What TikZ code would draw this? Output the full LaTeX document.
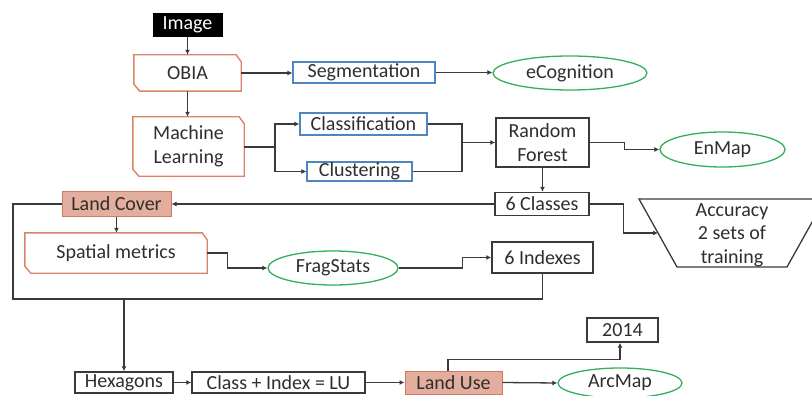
\documentclass[tikz,border=0pt]{standalone}
\usepackage{fontspec}
\setmainfont{Carlito}
\usetikzlibrary{arrows.meta,calc,shapes.geometric}
\definecolor{ln}{HTML}{3A3A3A}
\definecolor{orl}{HTML}{D98466}
\definecolor{blu}{HTML}{4F86C0}
\definecolor{grn}{HTML}{33B05A}
\definecolor{lcfill}{HTML}{E3AE9E}
\definecolor{lcdraw}{HTML}{C97C62}
\definecolor{txt}{HTML}{2E2E2E}
\tikzset{
  base/.style={inner sep=0pt, font=\fontsize{20}{23.5}\selectfont, text=txt, align=center},
  blk/.style={base, draw=ln, line width=1.4pt, fill=white},
  bluebox/.style={base, draw=blu, line width=1.2pt},
  grnell/.style={base, draw=grn, line width=1.3pt, ellipse},
  lcbox/.style={base, draw=lcdraw, fill=lcfill, line width=1pt},
  plain/.style={base},
  snipline/.style={draw=orl, line width=1.4pt, line join=miter},
  conn/.style={draw=ln, line width=1.3pt},
  arr/.style={conn, -{Latex[length=5pt,width=5pt]}},
  sz/.style 2 args={minimum width=#1pt, minimum height=#2pt}
}
\newcommand{\snipframe}[1]{%
  \draw[snipline] (#1.north west) -- ($(#1.north east)+(-5,0)$) -- ($(#1.north east)+(0,7)$)
    -- (#1.south east) -- ($(#1.south west)+(6,0)$) -- ($(#1.south west)+(0,-7)$) -- cycle;}
\begin{document}
\begin{tikzpicture}[x=1pt,y=-1pt]
\useasboundingbox (0,0) rectangle (812,396);
% nodes
\node[base, fill=black, text=white, sz={70}{24}] (img) at (187.5,25) {Image};
\node[plain, sz={107}{36}] (obia) at (187.5,73) {OBIA};
\snipframe{obia}
\node[bluebox, sz={142}{21}] (seg) at (364,72.5) {Segmentation};
\node[grnell, sz={154}{34}] (ecog) at (570,73) {eCognition};
\node[plain, sz={111}{59}] (ml) at (188.5,146.5) {Machine\\Learning};
\snipframe{ml}
\node[bluebox, sz={127}{22}] (cls) at (363.5,124) {Classification};
\node[bluebox, sz={105}{19}] (clu) at (359.5,171.5) {Clustering};
\node[blk, sz={93}{49}] (rf) at (542.5,142.5) {Random\\Forest};
\node[grnell, sz={125}{35}] (enmap) at (722.5,149.5) {EnMap};
\node[blk, sz={94}{23}] (six) at (542,204) {6 Classes};
\node[lcbox, sz={109}{25}] (lc) at (116.5,204) {Land Cover};
\node[plain, sz={182}{40}] (sm) at (116,253) {Spatial metrics};
\snipframe{sm}
\node[grnell, sz={130}{34}] (fs) at (333,268) {FragStats};
\node[blk, sz={101}{31}] (idx) at (542.5,257.5) {6 Indexes};
\node[blk, sz={98}{21}] (hex) at (124,382.5) {Hexagons};
\node[blk, sz={173}{21}] (ci) at (278.5,382.5) {Class + Index = LU};
\node[lcbox, sz={97}{23}] (lu) at (453.5,382.5) {Land Use};
\node[grnell, sz={124}{30}] (arc) at (620,383) {ArcMap};
\node[blk, sz={71}{24}] (y14) at (622.5,330) {2014};
% accuracy trapezoid
\draw[conn] (639,199) -- (825,199) -- (787,267) -- (677,267) -- cycle;
\node[plain] (acc) at (732,235) {Accuracy\\2 sets of\\training};
\coordinate (accin) at (658,233);
% connectors
\draw[arr] (img.south) -- (img.south |- obia.north);
\draw[arr] (obia.east) -- (obia.east -| seg.west);
\draw[arr] (seg.east) -- (seg.east -| ecog.west);
\draw[arr] (obia.south) -- (obia.south |- ml.north);
\coordinate (mlj) at (275,147);
\draw[conn] (ml.east |- mlj) -- (mlj);
\draw[arr] (mlj) |- (cls.west);
\draw[arr] (mlj) |- (clu.west);
\coordinate (rfj) at (462,142.5);
\draw[conn] (cls.east) -| (rfj);
\draw[conn] (clu.east) -| (rfj);
\draw[arr] (rfj) -- (rf.west);
\draw[arr] (rf.east) -- ++(35,0) |- (enmap.west);
\draw[arr] (rf.south) -- (rf.south |- six.north);
\draw[arr] (six.west) -- (lc.east);
\draw[arr] (six.east) -- ++(34,0) |- (accin);
\draw[arr] (lc.south) -- (lc.south |- sm.north);
\draw[arr] (sm.east) -- ++(20,0) |- (fs.west);
\draw[arr] (fs.east) -- ++(64,0) |- (idx.west);
\coordinate (loopL) at (13,299);
\draw[conn] (lc.west) -| (loopL) -- (loopL -| idx.south) -- (idx.south);
\draw[arr] (hex.north |- loopL) -- (hex.north);
\draw[arr] (hex.east) -- (ci.west);
\draw[arr] (ci.east) -- (lu.west);
\draw[arr] (lu.east) -- (arc.west);
\draw[arr] ($(lu.north)+(-5.5,0)$) |- ($(y14.south)+(-2.5,17)$) -- ($(y14.south)+(-2.5,0)$);
\end{tikzpicture}
\end{document}
